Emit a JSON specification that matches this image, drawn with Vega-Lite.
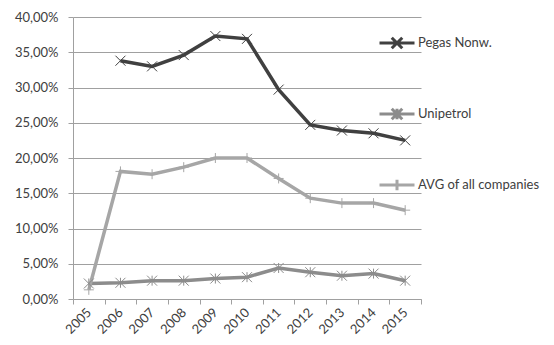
{
  "$schema": "https://vega.github.io/schema/vega-lite/v6.json",
  "width": 348,
  "height": 282,
  "autosize": {"type": "none"},
  "padding": {"left": 73, "top": 17, "right": 133, "bottom": 46},
  "background": "white",
  "config": {
    "view": {"stroke": null},
    "font": "Lato",
    "axis": {
      "labelFont": "Lato",
      "labelFontSize": 13,
      "labelColor": "#404040",
      "domainColor": "#a0a0a0",
      "tickColor": "#a0a0a0",
      "gridColor": "#a0a0a0",
      "tickSize": 5,
      "title": null
    },
    "legend": {"labelFont": "Lato", "labelFontSize": 13, "labelColor": "#404040"}
  },
  "data": {
    "values": [
      {"year": "2006", "series": "Pegas Nonw.", "value": 0.338},
      {"year": "2007", "series": "Pegas Nonw.", "value": 0.330},
      {"year": "2008", "series": "Pegas Nonw.", "value": 0.346},
      {"year": "2009", "series": "Pegas Nonw.", "value": 0.373},
      {"year": "2010", "series": "Pegas Nonw.", "value": 0.369},
      {"year": "2011", "series": "Pegas Nonw.", "value": 0.297},
      {"year": "2012", "series": "Pegas Nonw.", "value": 0.247},
      {"year": "2013", "series": "Pegas Nonw.", "value": 0.239},
      {"year": "2014", "series": "Pegas Nonw.", "value": 0.235},
      {"year": "2015", "series": "Pegas Nonw.", "value": 0.225},
      {"year": "2005", "series": "Unipetrol", "value": 0.022},
      {"year": "2006", "series": "Unipetrol", "value": 0.023},
      {"year": "2007", "series": "Unipetrol", "value": 0.026},
      {"year": "2008", "series": "Unipetrol", "value": 0.026},
      {"year": "2009", "series": "Unipetrol", "value": 0.029},
      {"year": "2010", "series": "Unipetrol", "value": 0.031},
      {"year": "2011", "series": "Unipetrol", "value": 0.044},
      {"year": "2012", "series": "Unipetrol", "value": 0.038},
      {"year": "2013", "series": "Unipetrol", "value": 0.033},
      {"year": "2014", "series": "Unipetrol", "value": 0.036},
      {"year": "2015", "series": "Unipetrol", "value": 0.026},
      {"year": "2005", "series": "AVG of all companies", "value": 0.013},
      {"year": "2006", "series": "AVG of all companies", "value": 0.181},
      {"year": "2007", "series": "AVG of all companies", "value": 0.177},
      {"year": "2008", "series": "AVG of all companies", "value": 0.187},
      {"year": "2009", "series": "AVG of all companies", "value": 0.200},
      {"year": "2010", "series": "AVG of all companies", "value": 0.200},
      {"year": "2011", "series": "AVG of all companies", "value": 0.171},
      {"year": "2012", "series": "AVG of all companies", "value": 0.143},
      {"year": "2013", "series": "AVG of all companies", "value": 0.136},
      {"year": "2014", "series": "AVG of all companies", "value": 0.136},
      {"year": "2015", "series": "AVG of all companies", "value": 0.126}
    ]
  },
  "encoding": {
    "x": {
      "field": "year",
      "type": "ordinal",
      "bandPosition": 0.5,
      "scale": {"type": "band", "paddingInner": 0, "paddingOuter": 0},
      "axis": {"tickBand": "extent", "grid": false, "labelAngle": -45, "labelAlign": "right", "labelBaseline": "middle", "labelPadding": 6}
    },
    "y": {
      "field": "value",
      "type": "quantitative",
      "scale": {"domain": [0, 0.4], "nice": false},
      "axis": {
        "values": [0, 0.05, 0.1, 0.15, 0.2, 0.25, 0.3, 0.35, 0.4],
        "labelExpr": "replace(format(datum.value, '.2%'), '.', ',')",
        "labelPadding": 10
      }
    },
    "color": {
      "field": "series",
      "type": "nominal",
      "scale": {
        "domain": ["Pegas Nonw.", "Unipetrol", "AVG of all companies"],
        "range": ["#404040", "#8c8c8c", "#a6a6a6"]
      },
      "legend": {
        "title": null,
        "orient": "none",
        "legendX": 305,
        "legendY": 7,
        "padding": 0,
        "symbolSize": 1225,
        "symbolStrokeWidth": 3,
        "rowPadding": 40,
        "labelOffset": 2,
        "encode": {
          "symbols": {
            "update": {
              "shape": {"signal": "datum.value == 'Pegas Nonw.' ? 'M-1,0H1M-0.3,-0.3L0.3,0.3M-0.3,0.3L0.3,-0.3' : datum.value == 'Unipetrol' ? 'M-1,0H1M-0.3,-0.3L0.3,0.3M-0.3,0.3L0.3,-0.3M0,-0.3V0.3' : 'M-1,0H1M0,-0.3V0.3'"},
              "fill": {"value": "transparent"},
              "strokeWidth": {"value": 3},
              "opacity": {"value": 1}
            }
          }
        }
      }
    }
  },
  "layer": [
    {"mark": {"type": "line", "strokeWidth": 3.5}},
    {
      "transform": [{"filter": "datum.series == 'Pegas Nonw.'"}],
      "mark": {"type": "point", "filled": false, "strokeWidth": 1, "size": 100, "opacity": 1, "shape": "M-1,-1L1,1M-1,1L1,-1"}
    },
    {
      "transform": [{"filter": "datum.series == 'Unipetrol'"}],
      "mark": {"type": "point", "filled": false, "strokeWidth": 1, "size": 100, "opacity": 1, "shape": "M-1,-1L1,1M-1,1L1,-1M0,-1V1"}
    },
    {
      "transform": [{"filter": "datum.series == 'AVG of all companies'"}],
      "mark": {"type": "point", "filled": false, "strokeWidth": 1, "size": 100, "opacity": 1, "shape": "M-1,0H1M0,-1V1"}
    }
  ]
}
